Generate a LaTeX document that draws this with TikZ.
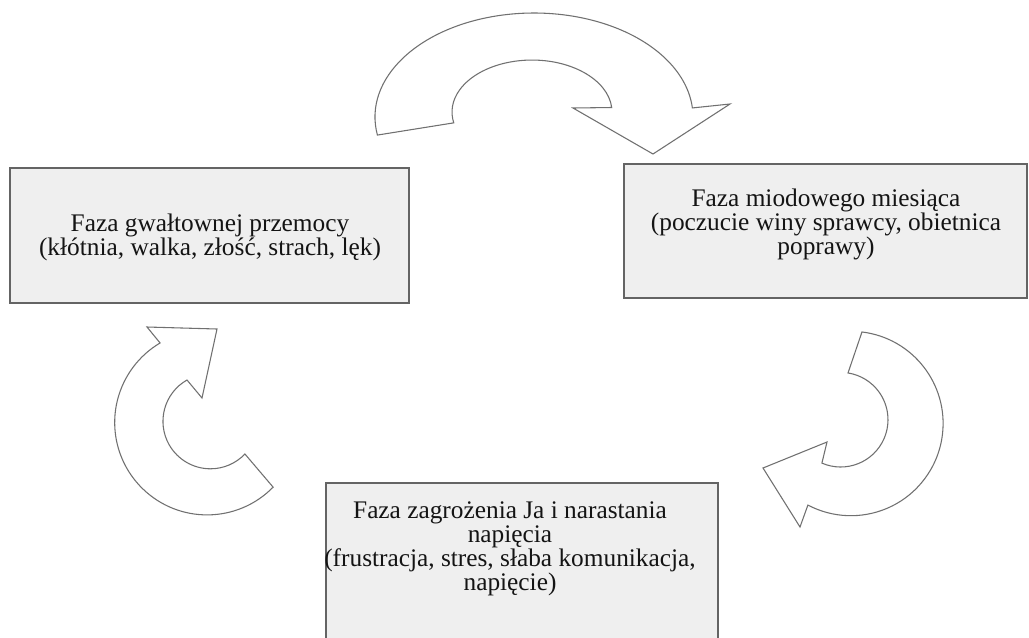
\documentclass[tikz,border=0pt]{standalone}
\usepackage{fontspec}
\setmainfont{Liberation Serif}
\usetikzlibrary{positioning}
\definecolor{boxfill}{RGB}{239,239,239}
\definecolor{boxline}{RGB}{100,100,100}
\definecolor{arrline}{RGB}{112,112,112}
\tikzset{
  phase/.style={draw=boxline,line width=0.9pt,fill=boxfill,inner sep=0pt},
  phasetext/.style={align=center,inner sep=0pt,text=black!92,
                    font=\fontsize{19pt}{18pt}\selectfont},
  turn/.style={draw=arrline,line width=0.8pt,fill=white,line join=miter},
}

\begin{document}
\begin{tikzpicture}[x=0.75pt,y=-0.75pt]
  \useasboundingbox (0,0) rectangle (1029,637);
  \clip (0,0) rectangle (1029,637);
  \fill[white] (0,0) rectangle (1029,637);

  % ===== phase boxes =====
  \node[phase,minimum width=299.25pt,minimum height=101.25pt] (violence)  at (209.5,235.5) {};
  \node[phase,minimum width=302.25pt,minimum height=100.5pt]  (honeymoon) at (825.5,231) {};
  \node[phase,minimum width=294pt,minimum height=126pt]       (tension)   at (522,567) {};

  \node[phasetext] (violenceText)  at (210,237)
       {Faza gwałtownej przemocy\\(kłótnia, walka, złość, strach, lęk)};
  \node[phasetext] (honeymoonText) at (826,224)
       {Faza miodowego miesiąca\\(poczucie winy sprawcy, obietnica\\poprawy)};
  \node[phasetext] (tensionText)   at (510,549)
       {Faza zagrożenia Ja i narastania\\napięcia\\(frustracja, stres, słaba komunikacja,\\napięcie)};

  % ===== curved block arrows =====
  % top: violence -> honeymoon
  \draw[turn] (534,117) ++(170:159 and 104)
       arc[start angle=170,end angle=355,x radius=159,y radius=104]
       -- (730,104) -- (653,154) -- (573,108) -- (611.7,107.5)
       arc[start angle=355,end angle=168,x radius=80,y radius=52] -- cycle;
  % right: honeymoon -> tension
  \draw[turn] (850.9,423.5) ++(-83.1:92.2) arc[start angle=-83.1,end angle=117.8,radius=92.2]
       -- (800,527) -- (763,468) -- (827,442) -- (821.9,463.1)
       arc[start angle=113.4,end angle=-81.1,radius=47.3] -- cycle;
  % left: tension -> violence
  \draw[turn] (207.1,422.5) ++(44.4:92.4) arc[start angle=44.4,end angle=239.4,radius=92.4]
       -- (147,327) -- (217,329) -- (202,398) -- (187,380)
       arc[start angle=240.4,end angle=43.5,radius=47.5] -- cycle;
\end{tikzpicture}
\end{document}
